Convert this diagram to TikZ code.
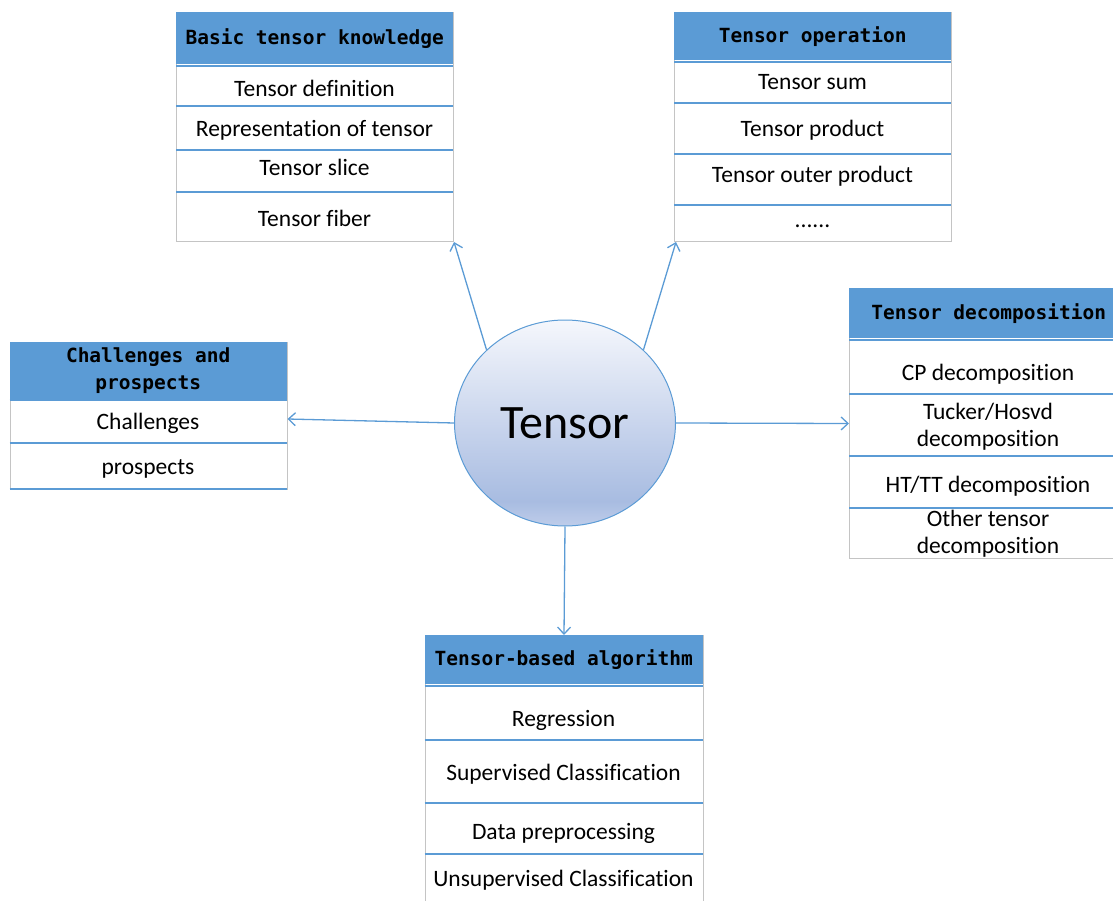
\documentclass[tikz,border=0pt]{standalone}
\usepackage{fontspec}
\setmainfont{Carlito}[Ligatures=NoCommon]
\newfontfamily\hdrfont{DejaVu Sans Mono}
\usetikzlibrary{arrows.meta,shapes.geometric}

\definecolor{accent}{HTML}{5B9BD5}
\definecolor{framegray}{HTML}{C4C4C4}
\definecolor{ballTop}{HTML}{F5F7FC}
\definecolor{ballMid}{HTML}{C9D5ED}
\definecolor{ballLow}{HTML}{A8BCE1}
\definecolor{ballBot}{HTML}{BFCDEA}

% vertical fill of the central ellipse (bottom to top)
\pgfdeclareverticalshading{ballshade}{100bp}{
  color(0bp)=(ballBot); color(25bp)=(ballBot); color(31bp)=(ballLow);
  color(50bp)=(ballMid); color(75bp)=(ballTop); color(100bp)=(ballTop)}

\tikzset{
  frame/.style={draw=framegray, line width=1pt, fill=white, anchor=north west,
    inner sep=0pt, minimum width=277pt},
  header/.style={fill=accent, anchor=north west, inner sep=0pt,
    minimum width=277pt, align=center,
    font=\hdrfont\bfseries\fontsize{19.5}{27}\selectfont},
  divider/.style={draw=accent, line width=1.4pt},
  item/.style={inner sep=0pt, align=center, font=\fontsize{23.5}{27}\selectfont},
  link/.style={draw=accent, line width=1.3pt, -{Straight Barb[length=7pt,width=13pt,line width=1.3pt]}},
}

\begin{document}
\begin{tikzpicture}[x=1pt,y=-1pt]
\useasboundingbox (0,0) rectangle (1113,901);
\clip (0,0) rectangle (1113,901);

% ---------- Basic tensor knowledge ----------
\node[frame, minimum height=229pt] (kb) at (176,12) {};
\node[header, minimum height=52pt] (kbh) at (176,12) {Basic tensor knowledge};
\draw[divider] (176,66) -- (453,66);
\draw[divider] (176,106) -- (453,106);
\draw[divider] (176,150) -- (453,150);
\draw[divider] (176,192) -- (453,192);
\node[item] (kb1) at (314.5,88)  {Tensor definition};
\node[item] (kb2) at (314.5,130) {Representation of tensor};
\node[item] (kb3) at (314.5,167) {Tensor slice};
\node[item] (kb4) at (314.5,218) {Tensor fiber};

% ---------- Tensor operation ----------
\node[frame, minimum height=229pt] (op) at (674,12) {};
\node[header, minimum height=48pt] (oph) at (674,12) {Tensor operation};
\draw[divider] (674,62) -- (951,62);
\draw[divider] (674,103) -- (951,103);
\draw[divider] (674,154) -- (951,154);
\draw[divider] (674,205) -- (951,205);
\node[item] (op1) at (812.5,82)  {Tensor sum};
\node[item] (op2) at (812.5,130) {Tensor product};
\node[item] (op3) at (812.5,176) {Tensor outer product};
\node[item] (op4) at (812.5,226) {......};

% ---------- Tensor decomposition ----------
\node[frame, minimum height=270pt, minimum width=279pt] (dc) at (849,288) {};
\node[header, minimum height=50pt, minimum width=279pt] (dch) at (849,288) {Tensor decomposition};
\draw[divider] (849,340) -- (1128,340);
\draw[divider] (849,394) -- (1128,394);
\draw[divider] (849,456) -- (1128,456);
\draw[divider] (849,508) -- (1128,508);
\node[item] (dc1) at (988,374) {CP decomposition};
\node[item] (dc2) at (988,427) {Tucker/Hosvd\\decomposition};
\node[item] (dc3) at (988,486) {HT/TT decomposition};
\node[item] (dc4) at (988,534) {Other tensor\\decomposition};

% ---------- Challenges and prospects ----------
\node[frame, minimum height=147pt, minimum width=277pt] (cp) at (9.5,342) {};
\node[header, minimum height=57pt] (cph) at (9.5,342) {Challenges and\\prospects};
\draw[divider] (9.5,400) -- (286.5,400);
\draw[divider] (9.5,443) -- (286.5,443);
\draw[divider] (9.5,489) -- (286.5,489);
\node[item] (cp1) at (148,423) {Challenges};
\node[item] (cp2) at (148,469) {prospects};

% ---------- Tensor-based algorithm ----------
\node[frame, minimum height=280pt, minimum width=278pt] (al) at (424.5,635) {};
\node[header, minimum height=49pt, minimum width=278pt] (alh) at (424.5,635) {Tensor-based algorithm};
\draw[divider] (424.5,686) -- (702.5,686);
\draw[divider] (424.5,740) -- (702.5,740);
\draw[divider] (424.5,803) -- (702.5,803);
\draw[divider] (424.5,854) -- (702.5,854);
\node[item] (al1) at (563.5,720) {Regression};
\node[item] (al2) at (563.5,774) {Supervised Classification};
\node[item] (al3) at (563.5,833) {Data preprocessing};
\node[item] (al4) at (563.5,880) {Unsupervised Classification};

% ---------- central topic ----------
\node[ellipse, draw=accent, line width=1pt, shading=ballshade,
      minimum width=221pt, minimum height=206pt, inner sep=0pt,
      font=\fontsize{48}{54}\selectfont] (t) at (565,423) {Tensor};

% ---------- connectors ----------
\draw[link] (t.137) -- (kb.south east);
\draw[link] (t.43) -- ([xshift=2pt]op.south west);
\draw[link] (t.west) -- (cp.east |- 0,419);
\draw[link] (t.east) -- (dc.west);
\draw[link] (t.south) -- (al.north);
\end{tikzpicture}
\end{document}
